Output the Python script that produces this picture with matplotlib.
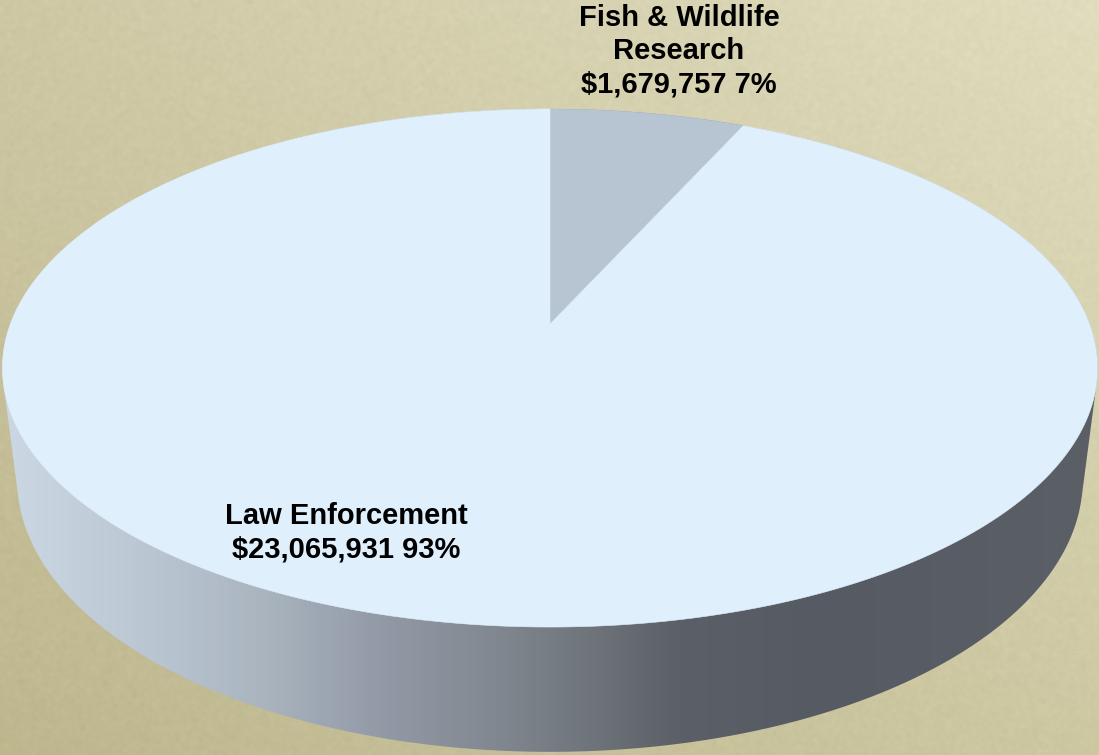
import numpy as np
import matplotlib
matplotlib.use("Agg")
import matplotlib.pyplot as plt
from matplotlib.colors import LinearSegmentedColormap
from matplotlib.patches import Polygon

# Budget split
categories = ["Fish & Wildlife\nResearch", "Law Enforcement"]
amounts = [1679757, 23065931]
percent_labels = ["7%", "93%"]
slice_colors = ["#b7c4d2", "#e0effc"]

W, H = 1099, 755
CX, APEX_Y = 550.0, 324.0
PERSP = 0.1699          # foreshortening of the disc plane
SCALE_X, SCALE_Y = 539.6, 196.5
LOW_APEX_Y, LOW_SCALE_X, LOW_SCALE_Y = 433.5, 525.0, 190.6


def project(theta, apex_y=APEX_Y, sx=SCALE_X, sy=SCALE_Y):
    """Map clockwise angle from twelve o'clock onto a tilted disc plane."""
    u, v = np.sin(theta), np.cos(theta)
    d = 1 + PERSP * v
    return np.column_stack((CX + sx * u / d, (apex_y - sy * v) / d))


def wedge(start, stop):
    n = max(int(abs(stop - start) * 200), 4)
    rim = project(np.linspace(start, stop, n))
    return np.vstack(([[CX, APEX_Y]], rim))


def hull(points):
    pts = sorted(map(tuple, points))

    def half(seq):
        out = []
        for p in seq:
            while len(out) > 1 and ((out[-1][0] - out[-2][0]) * (p[1] - out[-2][1])
                                    - (out[-1][1] - out[-2][1]) * (p[0] - out[-2][0])) <= 0:
                out.pop()
            out.append(p)
        return out[:-1]

    return np.array(half(pts) + half(pts[::-1]))


fig = plt.figure(figsize=(W / 100, H / 100), dpi=100)
ax = fig.add_axes([0, 0, 1, 1])
ax.set_xlim(0, W)
ax.set_ylim(H, 0)
ax.axis("off")

# Paper-textured backdrop: a diagonal tone shift plus fine fibres
yy, xx = np.mgrid[0:H, 0:W]
fx, fy = xx / (W - 1), yy / (H - 1)
corners = np.array([[0xce, 0xc8, 0xa5], [0xe0, 0xdc, 0xbd],
                    [0xbe, 0xb7, 0x8e], [0xcd, 0xc8, 0xa2]], float)
paper = ((1 - fx) * (1 - fy))[..., None] * corners[0] + (fx * (1 - fy))[..., None] * corners[1] \
    + ((1 - fx) * fy)[..., None] * corners[2] + (fx * fy)[..., None] * corners[3]
rng = np.random.default_rng(7)
grain = rng.normal(size=(H, W))
for axis in (0, 1):
    k = np.ones(5) / 5
    grain = np.apply_along_axis(lambda r: np.convolve(r, k, mode="same"), axis, grain)
paper = np.clip(paper + 6.0 * grain[..., None], 0, 255) / 255
ax.imshow(paper, extent=(0, W, H, 0), aspect="auto", zorder=0, interpolation="bilinear")

# Outer wall of the disc, shaded left to right
t = np.linspace(0, 2 * np.pi, 721)
top_rim = project(t)
low_rim = project(t, LOW_APEX_Y, LOW_SCALE_X, LOW_SCALE_Y)
wall = Polygon(hull(np.vstack((top_rim, low_rim))), closed=True, transform=ax.transData,
               facecolor="none", edgecolor="none")
ax.add_patch(wall)
stops = [(0.0, "#ccd8e4"), (0.14, "#b9c5d1"), (0.24, "#a9b4bf"), (0.33, "#959daa"),
         (0.46, "#7f868e"), (0.53, "#70767c"), (0.62, "#5b5f67"), (0.75, "#565a62"),
         (1.0, "#5b6067")]
shade = LinearSegmentedColormap.from_list("wall", stops)
im = ax.imshow(np.linspace(0, 1, W)[None, :], cmap=shade, extent=(0, W, H, 0),
               aspect="auto", zorder=1)
im.set_clip_path(wall)

# Top face, slices taken from the amounts
total = sum(amounts)
edges = np.concatenate(([0.0], np.cumsum(amounts) / total * 2 * np.pi))
for i, color in enumerate(slice_colors):
    ax.add_patch(Polygon(wedge(edges[i], edges[i + 1]), closed=True, facecolor=color,
                         edgecolor=color, linewidth=0.4, zorder=2))

# Slice labels
label_pos = [(679, 51), (346, 533)]
for name, amt, pct, (x, y) in zip(categories, amounts, percent_labels, label_pos):
    ax.text(x, y, f"{name}\n${amt:,} {pct}", ha="center", va="center", ma="center",
            family="Liberation Sans", fontweight="bold", fontsize=21, color="black",
            linespacing=1.24, zorder=3)

ax.set_xlim(0, W)
ax.set_ylim(H, 0)
fig.savefig("out.png", dpi=100)
